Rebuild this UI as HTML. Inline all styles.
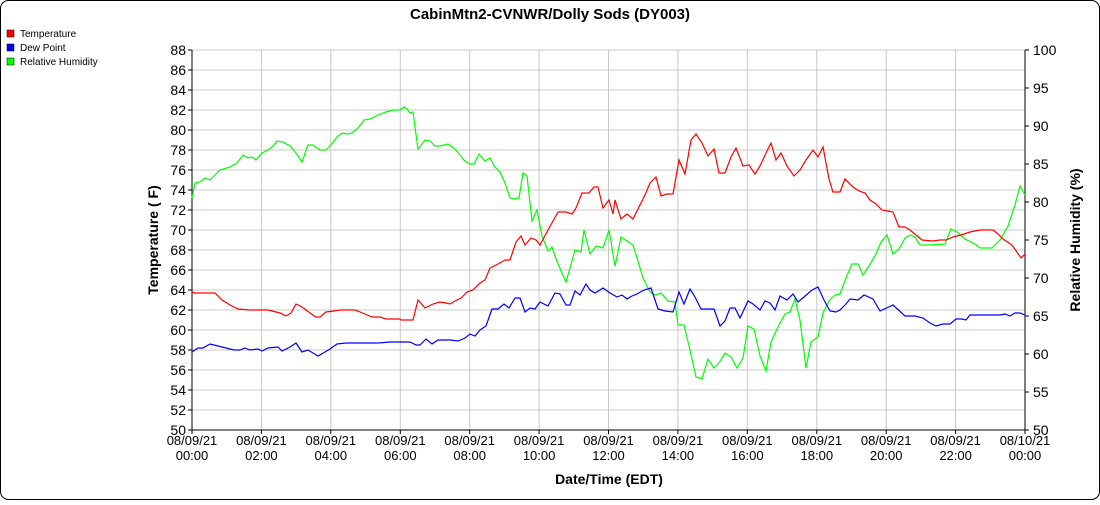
<!DOCTYPE html><html><head><style>body{margin:0;background:#fff}svg{font-family:"Liberation Sans",sans-serif}</style></head><body>
<svg width="1100" height="500" xmlns="http://www.w3.org/2000/svg">
<rect x="0.5" y="0.5" width="1099" height="499" rx="8" fill="#fff" stroke="#000"/>
<text x="550" y="19" text-anchor="middle" font-size="15" font-weight="bold">CabinMtn2-CVNWR/Dolly Sods (DY003)</text>
<g font-size="10"><rect x="7" y="30" width="7" height="7" fill="red" stroke="#000" stroke-width=".5"/><text x="20" y="37">Temperature</text>
<rect x="7" y="44" width="7" height="7" fill="#00f" stroke="#000" stroke-width=".5"/><text x="20" y="51">Dew Point</text>
<rect x="7" y="58" width="7" height="7" fill="#0f0" stroke="#000" stroke-width=".5"/><text x="20" y="65">Relative Humidity</text></g>
<g stroke="#c8c8c8" stroke-width="1">
<line x1="192" x2="1025" y1="50" y2="50"/><line x1="192" x2="1025" y1="70" y2="70"/><line x1="192" x2="1025" y1="90" y2="90"/><line x1="192" x2="1025" y1="110" y2="110"/><line x1="192" x2="1025" y1="130" y2="130"/><line x1="192" x2="1025" y1="150" y2="150"/><line x1="192" x2="1025" y1="170" y2="170"/><line x1="192" x2="1025" y1="190" y2="190"/><line x1="192" x2="1025" y1="210" y2="210"/><line x1="192" x2="1025" y1="230" y2="230"/><line x1="192" x2="1025" y1="250" y2="250"/><line x1="192" x2="1025" y1="270" y2="270"/><line x1="192" x2="1025" y1="290" y2="290"/><line x1="192" x2="1025" y1="310" y2="310"/><line x1="192" x2="1025" y1="330" y2="330"/><line x1="192" x2="1025" y1="350" y2="350"/><line x1="192" x2="1025" y1="370" y2="370"/><line x1="192" x2="1025" y1="390" y2="390"/><line x1="192" x2="1025" y1="410" y2="410"/>
<line y1="50" y2="430" x1="261.4" x2="261.4"/><line y1="50" y2="430" x1="330.8" x2="330.8"/><line y1="50" y2="430" x1="400.3" x2="400.3"/><line y1="50" y2="430" x1="469.7" x2="469.7"/><line y1="50" y2="430" x1="539.1" x2="539.1"/><line y1="50" y2="430" x1="608.5" x2="608.5"/><line y1="50" y2="430" x1="677.9" x2="677.9"/><line y1="50" y2="430" x1="747.3" x2="747.3"/><line y1="50" y2="430" x1="816.8" x2="816.8"/><line y1="50" y2="430" x1="886.2" x2="886.2"/><line y1="50" y2="430" x1="955.6" x2="955.6"/>
</g>
<g stroke="#000">
<line x1="188" x2="192" y1="50" y2="50"/><line x1="188" x2="192" y1="70" y2="70"/><line x1="188" x2="192" y1="90" y2="90"/><line x1="188" x2="192" y1="110" y2="110"/><line x1="188" x2="192" y1="130" y2="130"/><line x1="188" x2="192" y1="150" y2="150"/><line x1="188" x2="192" y1="170" y2="170"/><line x1="188" x2="192" y1="190" y2="190"/><line x1="188" x2="192" y1="210" y2="210"/><line x1="188" x2="192" y1="230" y2="230"/><line x1="188" x2="192" y1="250" y2="250"/><line x1="188" x2="192" y1="270" y2="270"/><line x1="188" x2="192" y1="290" y2="290"/><line x1="188" x2="192" y1="310" y2="310"/><line x1="188" x2="192" y1="330" y2="330"/><line x1="188" x2="192" y1="350" y2="350"/><line x1="188" x2="192" y1="370" y2="370"/><line x1="188" x2="192" y1="390" y2="390"/><line x1="188" x2="192" y1="410" y2="410"/><line x1="188" x2="192" y1="430" y2="430"/>
<line x1="1025" x2="1029" y1="50" y2="50"/><line x1="1025" x2="1029" y1="88" y2="88"/><line x1="1025" x2="1029" y1="126" y2="126"/><line x1="1025" x2="1029" y1="164" y2="164"/><line x1="1025" x2="1029" y1="202" y2="202"/><line x1="1025" x2="1029" y1="240" y2="240"/><line x1="1025" x2="1029" y1="278" y2="278"/><line x1="1025" x2="1029" y1="316" y2="316"/><line x1="1025" x2="1029" y1="354" y2="354"/><line x1="1025" x2="1029" y1="392" y2="392"/><line x1="1025" x2="1029" y1="430" y2="430"/>
<line y1="430" y2="434" x1="192" x2="192"/><line y1="430" y2="434" x1="261.4" x2="261.4"/><line y1="430" y2="434" x1="330.8" x2="330.8"/><line y1="430" y2="434" x1="400.3" x2="400.3"/><line y1="430" y2="434" x1="469.7" x2="469.7"/><line y1="430" y2="434" x1="539.1" x2="539.1"/><line y1="430" y2="434" x1="608.5" x2="608.5"/><line y1="430" y2="434" x1="677.9" x2="677.9"/><line y1="430" y2="434" x1="747.3" x2="747.3"/><line y1="430" y2="434" x1="816.8" x2="816.8"/><line y1="430" y2="434" x1="886.2" x2="886.2"/><line y1="430" y2="434" x1="955.6" x2="955.6"/><line y1="430" y2="434" x1="1025" x2="1025"/>
</g>
<g font-size="14" text-anchor="end">
<text x="186" y="55">88</text><text x="186" y="75">86</text><text x="186" y="95">84</text><text x="186" y="115">82</text><text x="186" y="135">80</text><text x="186" y="155">78</text><text x="186" y="175">76</text><text x="186" y="195">74</text><text x="186" y="215">72</text><text x="186" y="235">70</text><text x="186" y="255">68</text><text x="186" y="275">66</text><text x="186" y="295">64</text><text x="186" y="315">62</text><text x="186" y="335">60</text><text x="186" y="355">58</text><text x="186" y="375">56</text><text x="186" y="395">54</text><text x="186" y="415">52</text><text x="186" y="435">50</text>
</g>
<g font-size="14">
<text x="1033" y="55">100</text><text x="1033" y="93">95</text><text x="1033" y="131">90</text><text x="1033" y="169">85</text><text x="1033" y="207">80</text><text x="1033" y="245">75</text><text x="1033" y="283">70</text><text x="1033" y="321">65</text><text x="1033" y="359">60</text><text x="1033" y="397">55</text><text x="1033" y="435">50</text>
</g>
<g font-size="13" text-anchor="middle">
<text x="192" y="445">08/09/21</text><text x="192" y="460">00:00</text>
<text x="261.4" y="445">08/09/21</text><text x="261.4" y="460">02:00</text>
<text x="330.8" y="445">08/09/21</text><text x="330.8" y="460">04:00</text>
<text x="400.3" y="445">08/09/21</text><text x="400.3" y="460">06:00</text>
<text x="469.7" y="445">08/09/21</text><text x="469.7" y="460">08:00</text>
<text x="539.1" y="445">08/09/21</text><text x="539.1" y="460">10:00</text>
<text x="608.5" y="445">08/09/21</text><text x="608.5" y="460">12:00</text>
<text x="677.9" y="445">08/09/21</text><text x="677.9" y="460">14:00</text>
<text x="747.3" y="445">08/09/21</text><text x="747.3" y="460">16:00</text>
<text x="816.8" y="445">08/09/21</text><text x="816.8" y="460">18:00</text>
<text x="886.2" y="445">08/09/21</text><text x="886.2" y="460">20:00</text>
<text x="955.6" y="445">08/09/21</text><text x="955.6" y="460">22:00</text>
<text x="1025" y="445">08/10/21</text><text x="1025" y="460">00:00</text>
</g>
<line x1="192" y1="50" x2="192" y2="430" stroke="#000"/><line x1="1025" y1="50" x2="1025" y2="430" stroke="#000"/><line x1="192" y1="430" x2="1025" y2="430" stroke="#000"/>
<text x="609" y="484" text-anchor="middle" font-size="14" font-weight="bold">Date/Time (EDT)</text>
<text transform="translate(158,240) rotate(-90)" text-anchor="middle" font-size="14" font-weight="bold">Temperature ( F)</text>
<text transform="translate(1080,240) rotate(-90)" text-anchor="middle" font-size="14" font-weight="bold">Relative Humidity (%)</text>
<g fill="none" stroke-width="1.2">
<polyline stroke="#0f0" points="192,198 195,183 200,182 205,178 210,180 215,175 220,170 230,167 237,163 243,155 248,158 252,157 256,160 262,153 268,150 273,146 277,141 283,142 290,146 296,153 302,162 308,145 313,145 320,150 326,150 330,146 337,137 342,133 347,134 352,133 358,128 364,120 370,119 378,115 386,112 393,110 400,110 404,107 407,109 410,113 413,112 418,149 425,140 430,141 435,146 440,146 448,144 455,149 460,155 465,161 470,164 474,164 479,154 485,161 490,158 495,167 500,172 505,183 510,198 515,199 519,198 523,173 527,176 532,221 537,210 542,236 548,251 552,247 556,259 562,273 566,282 570,268 575,250 581,252 584,230 590,254 596,246 600,247 603,248 609,230 615,266 621,237 627,241 633,245 638,261 643,278 650,292 655,295 661,293 668,301 675,302 678,325 684,325 690,350 696,377 702,379 708,359 714,368 719,363 725,353 731,357 737,368 743,358 748,326 754,329 760,356 766,371 771,342 778,327 785,314 790,312 795,299 800,320 806,368 811,342 818,337 823,313 829,301 835,295 840,294 846,278 852,264 858,264 863,275 869,266 876,254 881,242 887,235 893,254 899,249 905,238 910,235 915,237 920,245 929,245 945,244 951,229 957,232 965,239 975,244 980,248 992,248 1000,240 1008,226 1015,205 1020,186 1025,195"/>
<polyline stroke="#00f" points="192,352 198,348 203,348 210,344 218,346 226,348 234,350 240,350 245,348 250,350 258,349 262,351 268,348 278,347 282,351 290,347 296,343 302,352 308,350 313,353 318,356 325,352 330,349 337,344 346,343 360,343 378,343 390,342 400,342 410,342 416,345 420,345 426,339 432,344 438,340 450,340 458,341 465,338 470,334 475,336 480,330 486,326 492,309 498,309 504,304 509,308 515,298 520,298 525,312 530,308 535,309 540,302 548,306 555,293 560,294 566,305 570,305 575,291 580,295 586,284 590,290 595,293 600,290 603,288 610,293 617,297 622,295 627,299 632,296 637,294 644,290 651,288 658,309 665,311 673,312 679,292 684,304 690,289 695,297 701,309 707,309 714,309 720,326 725,321 730,308 735,308 740,318 748,301 753,304 760,310 765,301 770,303 775,310 780,296 787,300 793,294 798,302 804,297 812,290 818,287 824,300 830,311 836,312 840,310 846,304 850,299 858,300 864,295 873,299 880,311 893,305 905,316 915,316 923,318 930,323 936,326 943,324 950,324 956,319 962,319 966,320 970,315 980,315 1000,315 1005,314 1010,316 1015,313 1020,313 1025,315"/>
<polyline stroke="red" points="192,292 195,293 215,293 222,300 230,305 238,309 250,310 268,310 280,313 286,316 291,313 296,304 302,307 310,313 316,317 320,317 326,312 334,311 340,310 355,310 365,314 372,317 380,317 386,319 400,319 401,320 413,320 418,300 425,308 433,304 440,302 446,303 450,304 455,301 461,298 467,292 473,290 480,283 485,280 490,268 498,264 505,260 510,260 516,242 521,236 525,245 531,238 536,240 540,245 548,230 558,212 566,212 572,214 576,208 582,193 589,193 594,187 598,187 603,208 609,200 613,214 615,200 621,219 627,214 633,219 645,195 650,183 656,177 661,196 667,194 673,194 679,160 685,174 691,140 696,134 702,143 708,156 714,149 719,173 725,173 731,157 736,148 743,166 749,165 755,174 760,166 766,153 771,143 776,160 781,153 787,166 794,176 800,170 806,160 813,150 818,157 823,147 829,179 833,192 840,192 845,179 853,187 859,191 865,193 870,200 876,204 882,210 893,212 899,227 905,227 910,230 916,235 922,240 933,241 940,240 946,240 953,237 961,235 970,232 980,230 993,230 998,234 1003,239 1012,245 1021,258 1025,254"/>
</g>
</svg></body></html>
